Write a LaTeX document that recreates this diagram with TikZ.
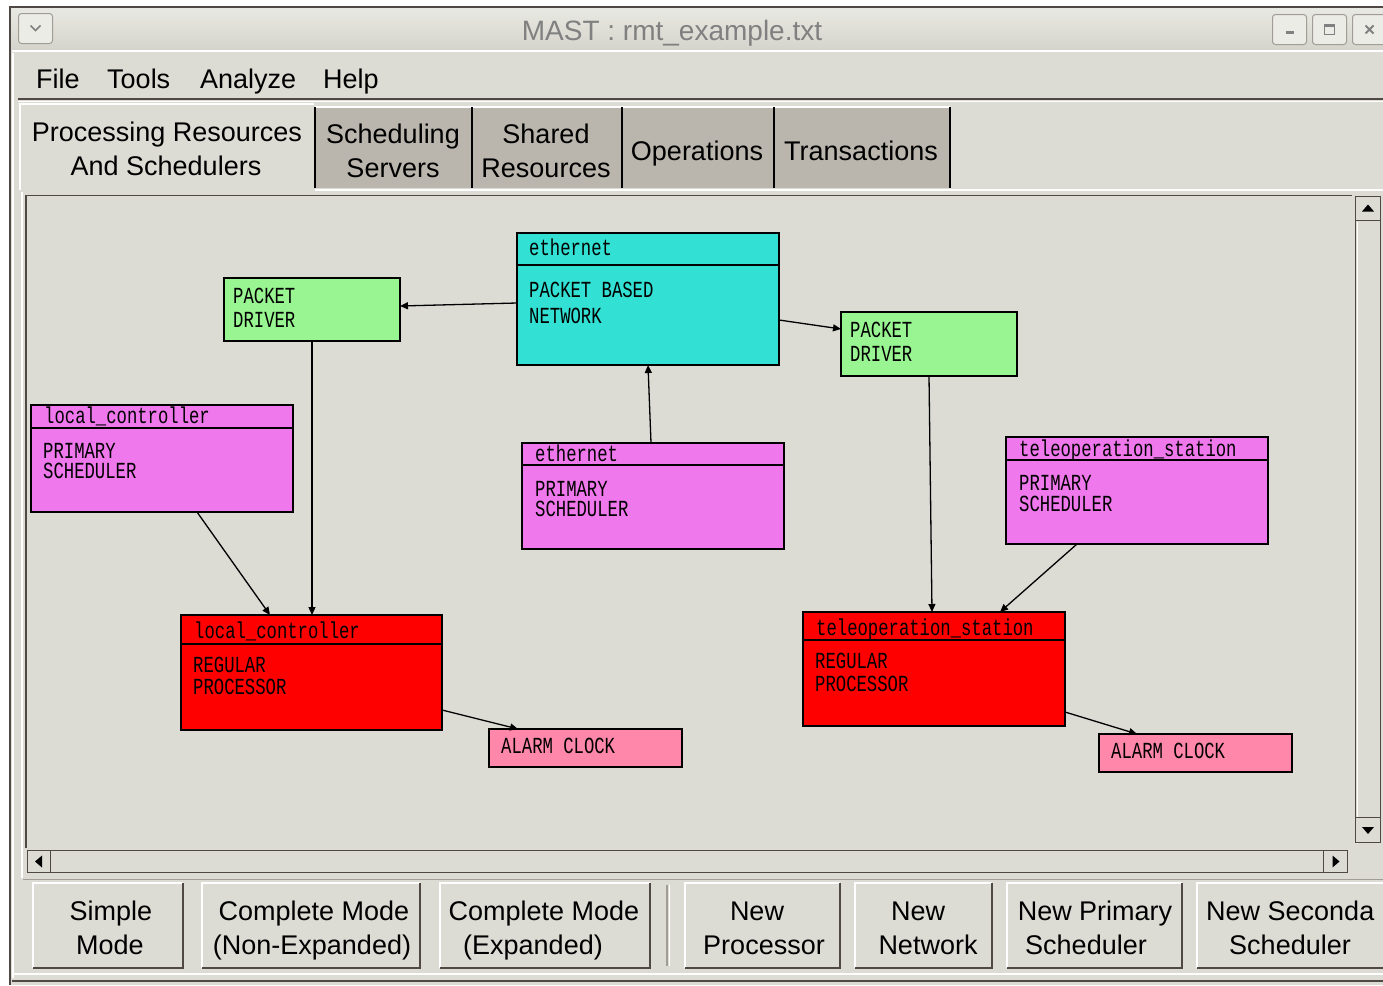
\documentclass[tikz,border=0pt]{standalone}
\usepackage{fontspec}
\setmainfont{Liberation Sans}
\newfontfamily\pixfont{Liberation Mono}[FakeStretch=0.75]
\usetikzlibrary{arrows.meta}

\definecolor{winbg}{RGB}{220,220,213}
\definecolor{titletop}{RGB}{233,233,227}
\definecolor{titlebot}{RGB}{212,212,204}
\definecolor{tabdark}{RGB}{186,182,173}
\definecolor{titlegray}{RGB}{128,128,128}
\definecolor{netcyan}{RGB}{50,225,212}
\definecolor{drvgreen}{RGB}{153,245,145}
\definecolor{schmag}{RGB}{238,120,236}
\definecolor{procred}{RGB}{255,0,0}
\definecolor{clkpink}{RGB}{255,135,170}
\definecolor{bevdark}{RGB}{80,72,68}
\definecolor{bevmid}{RGB}{160,156,150}
\definecolor{tbtnfill}{RGB}{236,236,231}

\begin{document}
\begin{tikzpicture}[x=1pt,y=-1pt,
  box/.style={draw=black, line width=1.5pt, anchor=north west, inner sep=0pt, outer sep=0pt},
  lbl/.style={font=\pixfont\fontsize{23}{23}\selectfont, anchor=base west, inner sep=0pt},
  % two-line body text; #1 is the line pitch
  body/.style={inner sep=0pt, anchor=north west, align=left,
               font=\pixfont\fontsize{23}{#1}\selectfont},
  ui/.style={font=\fontsize{27}{27}\selectfont, anchor=base, inner sep=0pt},
  uiw/.style={ui, anchor=base west},
  arr/.style={-{Triangle[length=8pt,width=7pt]}, line width=1.3pt},
  btn/.style={fill=winbg, anchor=north west, inner sep=0pt, outer sep=0pt, minimum height=85pt},
  tbtn/.style={draw=bevmid, fill=tbtnfill, rounded corners=3pt, anchor=north west,
               inner sep=0pt, minimum width=34pt, minimum height=30pt, line width=1pt},
  sbtn/.style={draw=bevdark, fill=winbg, anchor=north west, inner sep=0pt, line width=1pt},
  tab/.style={fill=tabdark, anchor=north west, inner sep=0pt, outer sep=0pt, minimum height=81pt},
]
\useasboundingbox (0,0) rectangle (1383,985);
\fill[white] (0,0) rectangle (1383,985);
\fill[winbg] (10,7) rectangle (1383,985);

% ---- title bar ----
\shade[top color=titletop, bottom color=titlebot] (11,8) rectangle (1383,50);
\draw[bevdark, line width=1.5pt] (10,985) -- (10,7) -- (1383,7);
\draw[white, line width=1.5pt] (12,51) -- (1383,51);
\node[font=\fontsize{28}{28}\selectfont, text=titlegray, anchor=base, inner sep=0pt] (title) at (672,40) {MAST : rmt\_example.txt};
\node[tbtn] (tbMenu) at (18,13) {};
\draw[titlegray, line width=1.6pt] ([xshift=-5pt,yshift=3pt]tbMenu.center) -- ([yshift=-2pt]tbMenu.center) -- ([xshift=5pt,yshift=3pt]tbMenu.center);
\node[tbtn] (tbMin) at (1272,14) {};
\draw[titlegray, line width=2.5pt] ([xshift=-4pt,yshift=-3pt]tbMin.center) -- ([xshift=4pt,yshift=-3pt]tbMin.center);
\node[tbtn] (tbMax) at (1312,14) {};
\draw[titlegray, line width=1.3pt] ([xshift=-5pt,yshift=-5pt]tbMax.center) rectangle ([xshift=5pt,yshift=5pt]tbMax.center);
\draw[titlegray, line width=2pt] ([xshift=-5pt,yshift=4pt]tbMax.center) -- ([xshift=5pt,yshift=4pt]tbMax.center);
\node[tbtn] (tbClose) at (1352,14) {};
\draw[titlegray, line width=2pt] ([xshift=-4pt,yshift=-4pt]tbClose.center) -- ([xshift=4pt,yshift=4pt]tbClose.center)
      ([xshift=-4pt,yshift=4pt]tbClose.center) -- ([xshift=4pt,yshift=-4pt]tbClose.center);

% ---- menu bar ----
\draw[white, line width=1.5pt] (13,53) -- (13,978);
\node[uiw] (mFile) at (36,88) {File};
\node[uiw] (mTools) at (107,88) {Tools};
\node[uiw] (mAnalyze) at (200,88) {Analyze};
\node[uiw] (mHelp) at (323,88) {Help};
\draw[bevdark, line width=1.5pt] (18,99) -- (1383,99);
\draw[white, line width=1.5pt] (18,101.5) -- (1383,101.5);

% ---- tabs ----
\node[tab, minimum width=157pt] (tabSched) at (315,107) {};
\node[tab, minimum width=150pt] (tabShared) at (472,107) {};
\node[tab, minimum width=152pt] (tabOps) at (622,107) {};
\node[tab, minimum width=176pt] (tabTrans) at (774,107) {};
\draw[white, line width=1.2pt] (tabSched.north west) -- (tabTrans.north east);
\foreach \t in {tabSched,tabShared,tabOps,tabTrans}
  \draw[black, line width=1.5pt] (\t.north east) -- (\t.south east);
\draw[black, line width=1.5pt] (tabSched.north west) -- (tabSched.south west);
\draw[white, line width=1.5pt] (20,190) -- (20,104) -- (314,104);
\node[ui] (tabProcA) at (167,141) {Processing Resources};
\node[ui] (tabProcB) at (166,175) {And Schedulers};
\node[ui] (tabSchedA) at (393,143) {Scheduling};
\node[ui] (tabSchedB) at (393,177) {Servers};
\node[ui] (tabSharedA) at (546,143) {Shared};
\node[ui] (tabSharedB) at (546,177) {Resources};
\node[ui] (tabOpsT) at (697,160) {Operations};
\node[ui] (tabTransT) at (861,160) {Transactions};

% ---- content panel ----
\draw[white, line width=1.5pt] (315,190) -- (1383,190);
\draw[white, line width=1.5pt] (22,878) -- (22,192);
\draw[bevdark, line width=1.3pt] (26,848) -- (26,195.5) -- (1352,195.5);
\draw[bevmid, line width=1pt] (23,879) -- (1383,879);

% vertical scrollbar
\draw[bevdark, line width=1pt] (1355,196) rectangle (1380,842);
\draw[white, line width=1pt] (1357,844) -- (1357,222);
\node[sbtn, minimum width=25pt, minimum height=24pt] (sbUp) at (1355,196) {};
\fill[black] ([xshift=-6pt,yshift=-3pt]sbUp.center) -- ([xshift=6pt,yshift=-3pt]sbUp.center) -- ([yshift=4pt]sbUp.center) -- cycle;
\node[sbtn, minimum width=25pt, minimum height=25pt] (sbDown) at (1355,817) {};
\fill[black] ([xshift=-6pt,yshift=3pt]sbDown.center) -- ([xshift=6pt,yshift=3pt]sbDown.center) -- ([yshift=-4pt]sbDown.center) -- cycle;

% horizontal scrollbar
\draw[bevdark, line width=1pt] (27,850) rectangle (1347,872);
\node[sbtn, minimum width=23pt, minimum height=22pt] (sbLeft) at (27,850) {};
\fill[black] ([xshift=3pt,yshift=-6pt]sbLeft.center) -- ([xshift=3pt,yshift=6pt]sbLeft.center) -- ([xshift=-4pt]sbLeft.center) -- cycle;
\node[sbtn, minimum width=24pt, minimum height=22pt] (sbRight) at (1323,850) {};
\fill[black] ([xshift=-3pt,yshift=-6pt]sbRight.center) -- ([xshift=-3pt,yshift=6pt]sbRight.center) -- ([xshift=4pt]sbRight.center) -- cycle;

% ---- diagram boxes ----
\node[box, fill=netcyan, minimum width=262pt, minimum height=132pt] (net) at (517,233) {};
\draw[line width=1.5pt] (net.north west) ++(0,32) -- ++(262,0);
\node[lbl] (net-h) at (529,255) {ethernet};
\node[body=26pt] (net-b) at (529,282) {PACKET BASED\\NETWORK};

\node[box, fill=drvgreen, minimum width=176pt, minimum height=63pt] (pdL) at (224,278) {};
\node[body=24pt] (pdL-b) at (233,288) {PACKET\\DRIVER};

\node[box, fill=drvgreen, minimum width=176pt, minimum height=64pt] (pdR) at (841,312) {};
\node[body=24pt] (pdR-b) at (850,322) {PACKET\\DRIVER};

\node[box, fill=schmag, minimum width=262pt, minimum height=107pt] (schL) at (31,405) {};
\draw[line width=1.5pt] (schL.north west) ++(0,23) -- ++(262,0);
\node[lbl] (schL-h) at (44,423) {local\_controller};
\node[body=20.5pt] (schL-b) at (43,443) {PRIMARY\\SCHEDULER};

\node[box, fill=schmag, minimum width=262pt, minimum height=106pt] (schE) at (522,443) {};
\draw[line width=1.5pt] (schE.north west) ++(0,22) -- ++(262,0);
\node[lbl] (schE-h) at (535,461) {ethernet};
\node[body=20.5pt] (schE-b) at (535,481) {PRIMARY\\SCHEDULER};

\node[box, fill=schmag, minimum width=262pt, minimum height=107pt] (schT) at (1006,437) {};
\draw[line width=1.5pt] (schT.north west) ++(0,23) -- ++(262,0);
\node[lbl] (schT-h) at (1019,456) {teleoperation\_station};
\node[body=21pt] (schT-b) at (1019,475) {PRIMARY\\SCHEDULER};

\node[box, fill=procred, minimum width=261pt, minimum height=115pt] (procL) at (181,615) {};
\draw[line width=1.5pt] (procL.north west) ++(0,29) -- ++(261,0);
\node[lbl] (procL-h) at (194,638) {local\_controller};
\node[body=22pt] (procL-b) at (193,657) {REGULAR\\PROCESSOR};

\node[box, fill=procred, minimum width=262pt, minimum height=114pt] (procT) at (803,612) {};
\draw[line width=1.5pt] (procT.north west) ++(0,28) -- ++(262,0);
\node[lbl] (procT-h) at (816,635) {teleoperation\_station};
\node[body=23pt] (procT-b) at (815,653) {REGULAR\\PROCESSOR};

\node[box, fill=clkpink, minimum width=193pt, minimum height=38pt] (clkL) at (489,729) {};
\node[lbl] (clkL-t) at (501,753) {ALARM CLOCK};
\node[box, fill=clkpink, minimum width=193pt, minimum height=38pt] (clkT) at (1099,734) {};
\node[lbl] (clkT-t) at (1111,758) {ALARM CLOCK};

% ---- connectors ----
\draw[arr] ([yshift=-70pt]net.north west) -- ([yshift=-28pt]pdL.north east);
\draw[arr] ([yshift=-87pt]net.north east) -- ([yshift=-17pt]pdR.north west);
\draw[arr] ([xshift=129pt]schE.north west) -- ([xshift=131pt]net.south west);
\draw[arr] ([xshift=88pt]pdL.south west) -- ([xshift=131pt]procL.north west);
\draw[arr] ([xshift=166pt]schL.south west) -- ([xshift=89pt]procL.north west);
\draw[arr] ([xshift=88pt]pdR.south west) -- ([xshift=129pt]procT.north west);
\draw[arr] ([xshift=71pt]schT.south west) -- ([xshift=197pt]procT.north west);
\draw[arr] ([yshift=-95pt]procL.north east) -- ([xshift=29pt]clkL.north west);
\draw[arr] ([yshift=-100pt]procT.north east) -- ([xshift=38pt]clkT.north west);

% ---- bottom buttons ----
\node[btn, minimum width=150pt] (bSimple) at (33,883) {};
\node[btn, minimum width=218pt] (bCNE) at (202,883) {};
\node[btn, minimum width=210pt] (bCE) at (440,883) {};
\node[btn, minimum width=155pt] (bNP) at (685,883) {};
\node[btn, minimum width=137pt] (bNN) at (855,883) {};
\node[btn, minimum width=175pt] (bNPS) at (1007,883) {};
\node[btn, minimum width=200pt] (bNSS) at (1197,883) {};
\foreach \b in {bSimple,bCNE,bCE,bNP,bNN,bNPS,bNSS}{
  \draw[white, line width=1.5pt] (\b.south west) |- (\b.north east);
  \draw[bevdark, line width=2pt] (\b.north east) |- (\b.south west);
}
\draw[bevmid, line width=1.2pt] (667,885) -- (667,966);
\draw[white, line width=1.2pt] (669.5,885) -- (669.5,966);

\node[ui] (bSimpleA) at (111,920) {Simple};
\node[ui] (bSimpleB) at (110,954) {Mode};
\node[ui] (bCNEA) at (314,920) {Complete Mode};
\node[ui] (bCNEB) at (312,954) {(Non-Expanded)};
\node[ui] (bCEA) at (544,920) {Complete Mode};
\node[ui] (bCEB) at (533,954) {(Expanded)};
\node[ui] (bNPA) at (757,920) {New};
\node[ui] (bNPB) at (764,954) {Processor};
\node[ui] (bNNA) at (918,920) {New};
\node[ui] (bNNB) at (928,954) {Network};
\node[ui] (bNPSA) at (1095,920) {New Primary};
\node[ui] (bNPSB) at (1086,954) {Scheduler};
\node[uiw] (bNSSA) at (1206,920) {New Seconda};
\node[ui] (bNSSB) at (1290,954) {Scheduler};

% window bottom frame
\draw[white, line width=1.2pt] (13,974) -- (1383,974);
\draw[bevdark, line width=1.5pt] (12,981) -- (1383,981);
\end{tikzpicture}
\end{document}
